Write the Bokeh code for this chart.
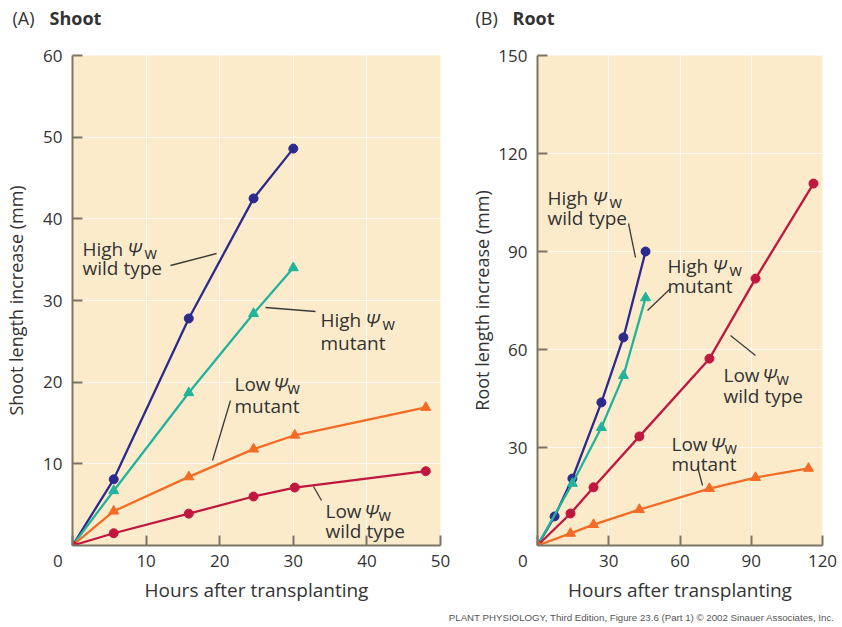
from bokeh.plotting import figure
from bokeh.layouts import row, column
from bokeh.models import Label, FixedTicker, Range1d
from bokeh.embed import file_html
from bokeh.resources import INLINE

# ---------------- data ----------------
# (A) Shoot : hours after transplanting vs shoot length increase (mm)
shoot_high_wt_x = [0, 5.6, 15.8, 24.6, 30.0]
shoot_high_wt_y = [0, 8.1, 27.8, 42.5, 48.6]
shoot_high_mut_x = [0, 5.6, 15.8, 24.6, 30.0]
shoot_high_mut_y = [0, 6.7, 18.7, 28.4, 34.0]
shoot_low_mut_x = [0, 5.6, 15.8, 24.6, 30.2, 48.0]
shoot_low_mut_y = [0, 4.2, 8.4, 11.8, 13.5, 16.9]
shoot_low_wt_x = [0, 5.6, 15.8, 24.6, 30.2, 48.0]
shoot_low_wt_y = [0, 1.5, 3.9, 6.0, 7.1, 9.1]

# (B) Root : hours after transplanting vs root length increase (mm)
root_high_wt_x = [0, 7.2, 14.7, 26.9, 36.2, 45.5]
root_high_wt_y = [0, 8.9, 20.5, 43.8, 63.7, 90.0]
root_high_mut_x = [0, 14.7, 26.9, 36.2, 45.5]
root_high_mut_y = [0, 19.0, 36.1, 52.0, 75.8]
root_low_wt_x = [0, 13.9, 23.6, 42.9, 72.4, 91.8, 116.2]
root_low_wt_y = [0, 9.8, 17.8, 33.4, 57.2, 81.7, 110.8]
root_low_mut_x = [0, 13.9, 23.6, 42.9, 72.4, 91.8, 114.1]
root_low_mut_y = [0, 3.7, 6.4, 11.0, 17.4, 20.8, 23.6]

shoot_xticks = [0, 10, 20, 30, 40, 50]
shoot_yticks = [10, 20, 30, 40, 50, 60]
root_xticks = [0, 30, 60, 90, 120]
root_yticks = [30, 60, 90, 120, 150]

x_title = "Hours after transplanting"
shoot_y_title = "Shoot length increase (mm)"
root_y_title = "Root length increase (mm)"
panel_a = ("(A)", "Shoot")
panel_b = ("(B)", "Root")
footer = "PLANT PHYSIOLOGY, Third Edition, Figure 23.6 (Part 1)  \u00a9 2002 Sinauer Associates, Inc."

# ---------------- styles / geometry ----------------
BLUE = "#2d2a8e"
TEAL = "#22b39c"
ORANGE = "#f36b25"
RED = "#c0173f"
BG = "#fcebcb"
AXIS = "#7d7466"
TXT = "#333333"
FONT = "Open Sans"
LABEL_PT = "19px"

TOTAL_W = 840
HEAD_H = 32
FOOT_H = 16
MAIN_H = 578
TOP = 55 - HEAD_H   # frame top at page y = 55
FRAME_H = 490       # frame bottom at page y = 545


def make_fig(width, left, right, xmax, ymax, xticks, yticks, ytitle, title_standoff):
    p = figure(width=width, height=MAIN_H, output_backend="svg", toolbar_location=None,
               x_range=Range1d(0, xmax), y_range=Range1d(0, ymax),
               min_border_left=left, min_border_right=right,
               min_border_top=TOP, min_border_bottom=MAIN_H - TOP - FRAME_H)
    p.background_fill_color = BG
    p.border_fill_color = "white"
    p.outline_line_color = None
    for ax in (p.xaxis[0], p.yaxis[0]):
        ax.axis_line_color = AXIS
        ax.axis_line_width = 2
        ax.major_tick_line_color = AXIS
        ax.major_tick_line_width = 2
        ax.minor_tick_line_color = None
        ax.major_tick_in = 10
        ax.major_tick_out = 0
        ax.major_label_text_font = FONT
        ax.major_label_text_font_size = "17px"
        ax.major_label_text_color = TXT
        ax.axis_label_text_font = FONT
        ax.axis_label_text_font_style = "normal"
        ax.axis_label_text_color = TXT
    p.xaxis[0].axis_label_text_font_size = "19px"
    p.yaxis[0].axis_label_text_font_size = "18px"
    p.xaxis[0].ticker = FixedTicker(ticks=xticks)
    p.yaxis[0].ticker = FixedTicker(ticks=yticks)
    # the corner "0" sits to the left of the axis corner
    p.xaxis[0].major_label_overrides = {0: "0\u2007\u2007\u2007"}
    p.xaxis[0].major_label_standoff = 3
    p.yaxis[0].major_label_standoff = 10
    p.xaxis[0].axis_label = x_title
    p.xaxis[0].axis_label_standoff = 2
    p.yaxis[0].axis_label = ytitle
    p.yaxis[0].axis_label_standoff = title_standoff
    p.xgrid.ticker = FixedTicker(ticks=xticks[1:])
    p.ygrid.ticker = FixedTicker(ticks=yticks)
    p.grid.grid_line_color = "white"
    p.grid.grid_line_alpha = 0.75
    p.grid.grid_line_width = 1
    return p


def strip(height, y0):
    # a plain drawing strip whose data units equal page pixels
    s = figure(width=TOTAL_W, height=height, output_backend="svg", toolbar_location=None,
               x_range=Range1d(0, TOTAL_W), y_range=Range1d(y0 + height, y0),
               x_axis_type=None, y_axis_type=None,
               min_border=0, min_border_left=0, min_border_right=0,
               min_border_top=0, min_border_bottom=0)
    s.outline_line_color = None
    s.background_fill_color = "white"
    s.border_fill_color = "white"
    s.grid.visible = False
    return s


def series(p, xs, ys, color, marker):
    p.line(xs, ys, line_color=color, line_width=2.3)
    p.scatter(xs, ys, marker=marker, size=9 if marker == "circle" else 10,
              fill_color=color, line_color=color)


def text(p, x, y, s, size=LABEL_PT, style="normal", align="left", base="alphabetic",
         color=TXT, font=FONT):
    p.add_layout(Label(x=x, y=y, text=s, text_font=font, text_font_size=size,
                       text_font_style=style, text_align=align, text_baseline=base,
                       text_color=color))


def psi_label(p, conv, px, base1, base2, word, line2):
    off_psi = 45 if word == "High" else 39
    off_w = 62 if word == "High" else 53
    x, y = conv(px, base1)
    text(p, x, y, word)
    x, y = conv(px + off_psi, base1)
    text(p, x, y, "\u03a8", style="italic")
    x, y = conv(px + off_w, base1 + 4)
    text(p, x, y, "w", size="16px")
    x, y = conv(px, base2)
    text(p, x, y, line2)


def leader(p, conv, a, b):
    x0, y0 = conv(*a)
    x1, y1 = conv(*b)
    p.segment(x0=[x0], y0=[y0], x1=[x1], y1=[y1], line_color="#3a3a3a", line_width=1.3)


# ---------------- header ----------------
head = strip(HEAD_H, 0)
text(head, 12, 17, panel_a[0], size="18px", base="middle")
text(head, 49, 17, panel_a[1], size="18px", style="bold", base="middle")
text(head, 475, 17, panel_b[0], size="18px", base="middle")
text(head, 512, 17, panel_b[1], size="18px", style="bold", base="middle")

# ---------------- (A) Shoot ----------------
p1 = make_fig(460, 72, 20, 50, 60, shoot_xticks, shoot_yticks, shoot_y_title, 12)
series(p1, shoot_high_wt_x, shoot_high_wt_y, BLUE, "circle")
series(p1, shoot_high_mut_x, shoot_high_mut_y, TEAL, "triangle")
series(p1, shoot_low_mut_x, shoot_low_mut_y, ORANGE, "triangle")
series(p1, shoot_low_wt_x, shoot_low_wt_y, RED, "circle")


def c1(px, py):
    return ((px - 72) / (368 / 50), (545 - py) / (FRAME_H / 60))


psi_label(p1, c1, 82, 248, 267, "High", "wild type")
leader(p1, c1, (170, 265), (216, 253))
psi_label(p1, c1, 320, 319, 342, "High", "mutant")
leader(p1, c1, (265, 307), (315, 311))
psi_label(p1, c1, 234, 383, 405, "Low", "mutant")
leader(p1, c1, (230, 400), (212, 460))
psi_label(p1, c1, 325, 510, 530, "Low", "wild type")
leader(p1, c1, (313, 486), (321, 500))

# ---------------- (B) Root ----------------
p2 = make_fig(380, 77, 18, 120, 150, root_xticks, root_yticks, root_y_title, 1)
series(p2, root_high_wt_x, root_high_wt_y, BLUE, "circle")
series(p2, root_high_mut_x, root_high_mut_y, TEAL, "triangle")
series(p2, root_low_wt_x, root_low_wt_y, RED, "circle")
series(p2, root_low_mut_x, root_low_mut_y, ORANGE, "triangle")


def c2(px, py):
    return ((px - 537) / (285 / 120), (545 - py) / (FRAME_H / 150))


psi_label(p2, c2, 547, 197, 217, "High", "wild type")
leader(p2, c2, (628, 223), (635, 257))
psi_label(p2, c2, 667, 265, 285, "High", "mutant")
leader(p2, c2, (670, 288), (647, 310))
psi_label(p2, c2, 723, 374, 395, "Low", "wild type")
leader(p2, c2, (730, 335), (755, 355))
psi_label(p2, c2, 671, 443, 463, "Low", "mutant")
leader(p2, c2, (697, 466), (702, 485))

# ---------------- footer ----------------
foot = strip(FOOT_H, HEAD_H + MAIN_H)
text(foot, 837, 617, footer, size="9.7px", align="right", base="middle",
     color="#555555", font="Liberation Sans")

layout = column(head, row(p1, p2), foot)
open("out.html", "w").write(file_html(layout, INLINE))
